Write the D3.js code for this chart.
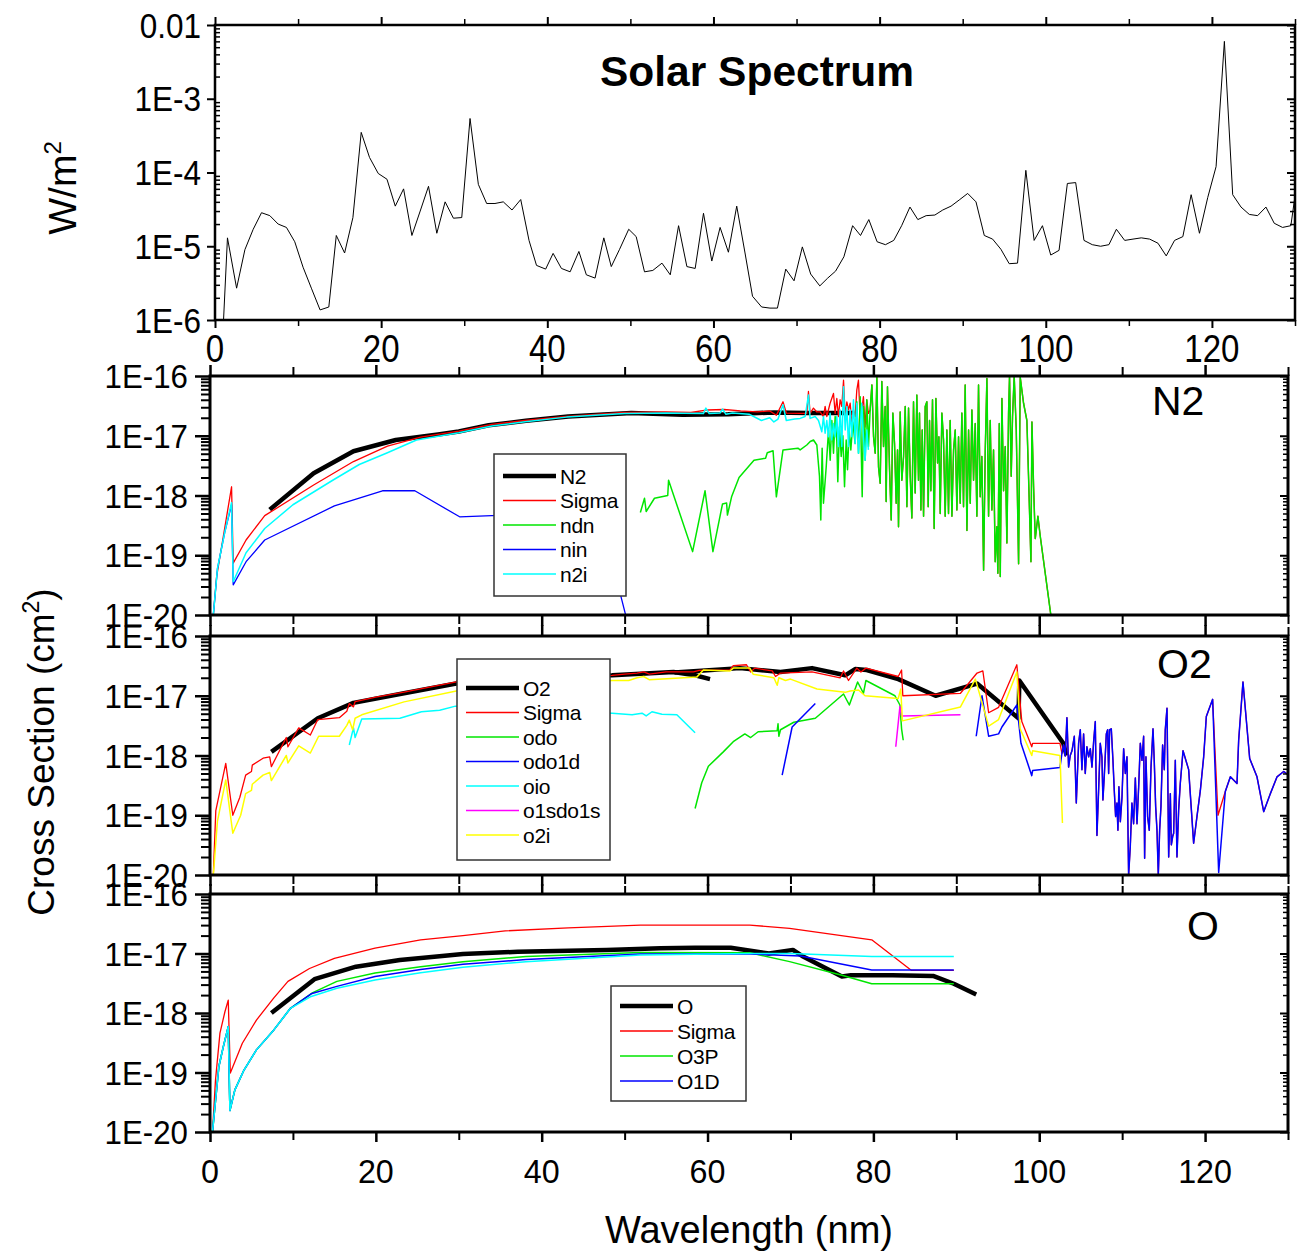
<!DOCTYPE html>
<html>
<head>
<meta charset="utf-8">
<script src="https://cdn.jsdelivr.net/npm/d3@7"></script>
<style>
  body { margin: 0; background: #fff; }
  svg text { font-family: "Liberation Sans", Arial, sans-serif; fill: #000; }
</style>
</head>
<body>
<svg id="chart" width="1305" height="1255"></svg>
<script>
////////////////////////////////////////////////////////////////////////
// Data: [wavelength nm, value]

// Solar spectrum, W/m^2
let solarSpectrum = [
  [0.9,5e-7],[1.5,1.3e-5],[2.6,2.7e-6],[3.6,9e-6],[4.6,1.7e-5],[5.6,2.85e-5],[6.6,2.6e-5],[7.6,2.0e-5],
  [8.6,1.8e-5],[9.6,1.15e-5],[10.6,5.2e-6],[11.6,2.7e-6],[12.65,1.37e-6],[13.7,1.5e-6],[14.6,1.4e-5],
  [15.6,8.1e-6],[16.6,2.45e-5],[17.6,3.5e-4],[18.6,1.6e-4],[19.65,9.7e-5],[20.7,8.1e-5],[21.7,3.5e-5],
  [22.7,6e-5],[23.7,1.4e-5],[24.7,3e-5],[25.7,6.5e-5],[26.7,1.5e-5],[27.7,4e-5],[28.7,2.4e-5],[29.7,2.45e-5],
  [30.7,5.4e-4],[31.7,6.9e-5],[32.7,3.8e-5],[33.7,3.8e-5],[34.7,4e-5],[35.75,3.1e-5],[36.8,4.3e-5],
  [37.8,1.2e-5],[38.7,5.5e-6],[39.8,4.9e-6],[40.7,8e-6],[41.7,5e-6],[42.75,4.5e-6],[43.8,8.5e-6],
  [44.7,4.1e-6],[45.75,3.7e-6],[46.8,1.3e-5],[47.7,5.3e-6],[48.7,9.1e-6],[49.8,1.7e-5],[50.7,1.35e-5],
  [51.7,4.5e-6],[52.7,4.7e-6],[53.8,5.9e-6],[54.8,4.1e-6],[55.8,1.9e-5],[56.8,5.3e-6],[57.8,5e-6],
  [58.8,2.8e-5],[59.8,6.3e-6],[60.8,1.8e-5],[61.8,8.3e-6],[62.8,3.5e-5],[63.8,8.1e-6],[64.7,2.1e-6],
  [65.8,1.5e-6],[66.8,1.45e-6],[67.7,1.45e-6],[68.7,4.9e-6],[69.7,3.4e-6],[70.7,9.8e-6],[71.7,4.2e-6],
  [72.8,2.9e-6],[73.75,3.7e-6],[74.7,4.6e-6],[75.7,7.2e-6],[76.75,1.9e-5],[77.7,1.4e-5],[78.7,2.3e-5],
  [79.7,1.15e-5],[80.7,1.05e-5],[81.7,1.2e-5],[82.65,1.9e-5],[83.65,3.4e-5],[84.6,2.3e-5],[85.6,2.6e-5],
  [86.65,2.65e-5],[87.6,3.1e-5],[88.6,3.5e-5],[89.65,4.3e-5],[90.6,5.2e-5],[91.6,4e-5],[92.6,1.4e-5],
  [93.6,1.25e-5],[94.6,9.1e-6],[95.6,5.8e-6],[96.6,5.9e-6],[97.6,1.07e-4],[98.6,1.2e-5],[99.6,1.9e-5],
  [100.6,7.6e-6],[101.6,8.8e-6],[102.6,7.1e-5],[103.6,7.3e-5],[104.6,1.2e-5],[105.6,1.05e-5],[106.6,1e-5],
  [107.6,1.05e-5],[108.5,1.7e-5],[109.5,1.2e-5],[110.5,1.25e-5],[111.5,1.3e-5],[112.5,1.25e-5],
  [113.5,1.1e-5],[114.5,7.4e-6],[115.5,1.2e-5],[116.5,1.35e-5],[117.5,5e-5],[118.5,1.5e-5],[119.5,4.6e-5],
  [120.5,1.2e-4],[121.5,6e-3],[122.5,5e-5],[123.5,3.4e-5],[124.5,2.7e-5],[125.5,2.6e-5],[126.5,3.4e-5],
  [127.5,2.05e-5],[128.5,1.8e-5],[129.5,1.9e-5],[130,4.8e-5]
];

// N2 cross sections, cm^2
let n2Total = [
  [7.2,5.8e-19],[12.5,2.35e-18],[17.3,5.5e-18],[22.4,8.5e-18],[27.5,1.05e-17],[30,1.18e-17],[33.6,1.5e-17],
  [38.1,1.78e-17],[43.2,2.1e-17],[50.8,2.4e-17],[57,2.25e-17],[62.5,2.3e-17],[68,2.45e-17],[72,2.4e-17],[77.6,2.4e-17]
];
let n2Sigma = [
  [0.4,1e-20],[0.8,4.4e-20],[1.8,3e-19],[2.6,1.4e-18],[2.8,7.4e-20],[4.35,1.8e-19],[6.6,4.6e-19],
  [12.5,1.5e-18],[17.3,3.7e-18],[21.4,6.7e-18],[25.4,9.5e-18],[30,1.2e-17],[34,1.55e-17],[38,1.8e-17],
  [43,2.1e-17],[50,2.45e-17],[55,2.5e-17],[58,2.45e-17],[60,2.7e-17],[62,2.75e-17],[64,2.6e-17],[66,2.5e-17],
  [67.5,2.6e-17],[68.3,2.2e-17],[69.1,3.7e-17],[69.5,2.4e-17],[71.17,2.37e-17],[71.97,2.37e-17],
  [72.17,5.5e-17],[72.37,2.37e-17],[72.77,2.9e-17],[73.18,2.5e-17],[73.58,2.5e-17],[73.98,2.1e-17],
  [74.18,3.1e-17],[74.38,2.1e-17],[74.78,3.5e-17],[75.19,5.1e-17],[75.39,2.37e-17],[75.59,4.2e-17],
  [75.79,2.1e-17],[75.99,4e-17],[76.19,3.1e-17],[76.4,8.5e-17],[76.6,2.1e-17],[76.8,3.7e-17],[77.0,2.7e-17],
  [77.2,3.5e-17],[77.4,1.6e-17],[77.6,2.7e-17],[77.8,2.1e-17],[78.0,5.8e-17],[78.2,8.5e-17],[78.4,2.1e-17],
  [78.6,2.7e-17],[78.8,4.5e-17],[79.0,1.4e-17],[79.2,4e-17],[79.4,2.37e-17]
];
let n2Ndn = [
  [51.9,5.2e-19],[52.4,9e-19],[52.6,5.4e-19],[53.6,9e-19],[55.2,1e-18],[55.3,1.8e-18],[58.2,1.15e-19],
  [59.7,1.2e-18],[60.65,1.15e-19],[61.8,7.2e-19],[62.3,7.5e-19],[62.4,4.7e-19],[62.9,9.5e-19],[63.8,2e-18],
  [65.6,3.9e-18],[67,4.2e-18],[67.2,5.2e-18],[67.9,5.6e-18],[68.3,9.5e-19],[69.1,5.8e-18],[70.9,6.2e-18],
  [71.17,5.8e-18],[71.97,7.0e-18],[72.38,8.0e-18],[72.78,8.5e-18],[73.18,7.0e-18],[73.5,2.1e-18],
  [73.66,3.9e-19],[73.82,6.2e-18],[73.98,7.4e-19],[74.31,3.0e-18],[74.59,1.25e-17],[74.79,3.9e-18],
  [74.99,1.8e-17],[75.19,5.1e-18],[75.39,2.1e-17],[75.59,8.0e-18],[75.71,1.7e-18],[75.91,1.4e-17],
  [76.12,4.5e-18],[76.32,1.0e-17],[76.52,1.4e-18],[76.72,8.5e-18],[76.88,2.7e-18],[77.08,1.25e-17],
  [77.28,5.8e-18],[77.52,1.7e-17],[77.8,7.4e-18],[78.0,3.7e-17],[78.21,5.1e-18],[78.41,4.5e-17],
  [78.65,9.5e-19],[78.81,3.1e-17],[79.01,3.9e-18],[79.21,4.0e-17],[79.41,6.6e-18],[79.61,2.7e-17],
  [79.82,7.1e-17],[80.02,9.6e-18],[80.22,5.1e-18],[80.42,9.5e-17],[80.62,3.0e-18],[80.82,1.6e-18],
  [81.02,8.1e-17],[81.22,6.6e-18],[81.42,3.1e-17],[81.54,7.9e-19],[81.7,6.6e-17],[81.95,2.7e-18],
  [82.15,3.9e-19],[82.35,2.4e-17],[82.55,7.4e-18],[82.75,7.4e-19],[82.91,5.8e-18],[83.03,3.0e-19],
  [83.23,2.5e-17],[83.43,1.8e-18],[83.64,4.5e-18],[83.84,3.1e-17],[84.04,6.5e-19],[84.24,2.9e-17],
  [84.44,2.1e-18],[84.64,4.2e-19],[84.84,3.7e-17],[85.04,1.1e-18],[85.24,4.8e-17],[85.44,1.8e-18],
  [85.56,2.4e-17],[85.73,5.7e-19],[85.89,1.25e-17],[86.05,4.5e-19],[86.25,3.1e-17],[86.45,3.7e-17],
  [86.61,6.5e-19],[86.77,1.8e-17],[86.93,1.2e-18],[87.13,4.0e-17],[87.33,2.8e-19],[87.54,4.2e-17],
  [87.74,3.5e-18],[87.9,9.6e-18],[88.06,5.0e-19],[88.26,2.4e-17],[88.46,8.5e-18],[88.66,4.5e-19],
  [88.86,1.25e-17],[89.06,5.0e-19],[89.26,1.8e-17],[89.47,4.5e-19],[89.67,5.8e-18],[89.87,1.25e-17],
  [90.07,5.7e-19],[90.27,9.6e-18],[90.47,7.4e-19],[90.67,2.4e-17],[90.87,6.5e-19],[91.07,7.1e-17],
  [91.28,2.6e-19],[91.48,1.25e-17],[91.68,7.4e-19],[91.88,2.7e-17],[92.08,1.8e-18],[92.28,1.6e-17],
  [92.48,4.5e-19],[92.68,7.1e-17],[92.88,9.5e-19],[93.08,4.5e-18],[93.29,5.6e-20],[93.49,5.8e-18],
  [93.69,9.1e-17],[93.89,4.5e-19],[94.09,1.8e-17],[94.29,5.7e-19],[94.49,5.8e-18],[94.69,7.8e-20],
  [94.89,3.0e-19],[95.01,5.0e-20],[95.18,1.6e-17],[95.3,4.4e-20],[95.5,4.2e-17],[95.7,1.2e-18],
  [95.9,6.6e-18],[96.1,1.6e-19],[96.3,2.4e-17],[96.42,1.0e-16],[96.62,2.1e-18],[96.78,2.1e-17],
  [96.98,1.0e-16],[97.23,1.25e-17],[97.51,7.2e-20],[97.71,9.5e-17],[98.11,3.5e-17],[98.51,1.8e-17],
  [98.71,2.1e-18],[99.0,7.8e-20],[99.12,1.7e-17],[99.32,1.4e-18],[99.52,1.9e-19],[99.84,4.5e-19],
  [100.12,2.1e-19],[101.4,1e-20]
];
let n2Nin = [
  [0.4,1e-20],[0.9,6e-20],[1.8,2.5e-19],[2.6,7e-19],[2.8,3.2e-20],[4.35,7.8e-20],[6.6,1.8e-19],
  [15,6.7e-19],[20.8,1.2e-18],[24.7,1.2e-18],[30.1,4.4e-19],[34,4.6e-19],[42,5e-19],[49.5,2.2e-20],[50.3,8e-21]
];
let n2N2i = [
  [0.4,1e-20],[0.9,6e-20],[1.8,2.5e-19],[2.6,7.6e-19],[2.8,3.6e-20],[4.35,1.1e-19],[6.6,2.8e-19],[10,7e-19],
  [14.8,1.8e-18],[18,3.3e-18],[21.4,5.2e-18],[24.9,8.5e-18],[30,1.12e-17],[34,1.45e-17],[38,1.72e-17],
  [43,2.05e-17],[50,2.35e-17],[55,2.4e-17],[59.5,2.35e-17],[59.8,2.9e-17],[60.2,2.35e-17],[61.5,2.4e-17],
  [61.8,2.8e-17],[62.2,2.3e-17],[63,2.4e-17],[65,2.3e-17],[66.5,1.8e-17],[67.5,2.0e-17],[68,1.7e-17],
  [68.5,1.9e-17],[69.1,3.3e-17],[69.5,1.8e-17],[70.5,1.9e-17],[71.17,1.95e-17],[71.77,2.1e-17],
  [72.17,4.8e-17],[72.37,1.95e-17],[72.98,2.1e-17],[73.38,1.8e-17],[73.78,1.17e-17],[73.98,2.1e-17],
  [74.18,1.1e-17],[74.38,1.8e-17],[74.58,9.6e-18],[74.78,2.37e-17],[74.98,8.5e-18],[75.19,1.6e-17],
  [75.39,9.6e-18],[75.59,2.1e-17],[75.79,6.6e-18],[75.99,2.7e-17],[76.19,6.6e-18],[76.4,6.6e-17],
  [76.6,1.25e-17],[76.8,3.1e-17],[77.0,6.6e-18],[77.2,2.7e-17],[77.4,9.6e-18],[77.6,4e-17],[77.8,7.4e-18],
  [78.0,3.5e-17],[78.2,5.1e-18],[78.4,1.25e-17],[78.6,3.5e-17],[78.8,9.6e-18],[79.0,3.9e-18],
  [79.2,1.25e-17],[79.4,5.8e-18]
];

// O2 cross sections, cm^2
let o2Total = [
  [7.4,1.15e-18],[13,4.2e-18],[17.3,7.6e-18],[23.4,1.1e-17],[29.7,1.6e-17],[36,1.9e-17],[42,2.1e-17],
  [48.5,2.2e-17],[55.9,2.5e-17],[58.5,2.2e-17],[60.3,1.9e-17]
];
let o2TotalLong = [
  [56,2.45e-17],[63.9,2.9e-17],[68.8,2.5e-17],[72.6,2.9e-17],[76.6,2.2e-17],[77.8,2.8e-17],[79.2,2.7e-17],
  [83,1.9e-17],[87.5,1e-17],[92.5,1.6e-17],[97.5,4.2e-18],[97.6,1.8e-17],[102.9,1.6e-18],[103.3,1.0e-18]
];
let o2SigmaHead = [
  [0.4,1e-20],[0.7,1.2e-19],[1.9,7.4e-19],[2.75,1e-19],[3.6,2e-19],[4.3,4.7e-19],[5.0,5.4e-19],[5.1,6.9e-19],
  [6.4,9e-19],[7.2,9.5e-19],[7.4,6.5e-19],[9.2,2e-18],[9.4,1.4e-18],[10.7,2.9e-18],[12.1,2.2e-18],[13,4e-18],
  [15.6,4.3e-18],[16.5,5.5e-18],[16.8,7.4e-18],[17.3,6.5e-18],[17.5,8e-18],[20,9.5e-18],[23.4,1.15e-17],
  [26,1.35e-17],[29.7,1.7e-17],[30,2.0e-17],[30.3,1.7e-17],[36,2e-17],[42,2.15e-17],[48.5,2.2e-17],
  [50,2.3e-17],[51.5,2.4e-17],[52.3,2.5e-17],[53,2.3e-17],[55,2.5e-17],[58.3,2.5e-17],[59,2.65e-17],
  [62.7,2.7e-17],[63.1,3.2e-17],[64.7,3.3e-17],[65.2,2.5e-17],[65.7,2.9e-17],[67.8,2.6e-17],[68.2,2.1e-17],
  [68.8,2.4e-17],[72.6,2.5e-17],[76,2e-17],[76.4,2.6e-17],[77,1.8e-17],[78,2.9e-17],[78.5,2.5e-17],
  [79.1,2.9e-17],[83,2.1e-17],[83.4,2.7e-17],[83.55,1.0e-17],[90.5,1.1e-17],[92.5,2.4e-17],[93.2,2.6e-17],
  [93.9,5.2e-18],[95.1,6.4e-18],[97.3,3.3e-17],[97.9,3.7e-18],[99.1,1.4e-18],[99.2,1.6e-18],[102.5,1.6e-18]
];
// the banded part above 102.7 nm, shared by Sigma and odo1d
let o2Bands = [
  [102.74,1.09e-18],[102.94,1.5e-18],[103.14,9.8e-19],[103.34,4.3e-18],[103.54,6.4e-19],[103.74,1.0e-18],
  [103.95,1.2e-18],[104.23,2.1e-18],[104.47,1.6e-19],[104.75,1.6e-18],[104.95,2.7e-18],[105.15,5.8e-19],
  [105.35,2.3e-18],[105.55,5.0e-19],[105.75,1.4e-18],[105.96,9.5e-19],[106.16,1.3e-18],[106.36,6.4e-19],
  [106.56,1.7e-18],[106.76,3.7e-18],[106.96,4.6e-20],[107.16,2.6e-19],[107.36,1.6e-18],[107.56,9.5e-19],
  [107.68,1.8e-19],[107.85,4.7e-19],[108.09,2.3e-18],[108.25,2.7e-18],[108.37,5.0e-19],[108.49,2.7e-18],
  [108.69,2.8e-18],[108.89,8.3e-19],[109.05,2.6e-19],[109.21,9.5e-20],[109.37,1.6e-19],[109.49,5.6e-20],
  [109.61,3.0e-19],[109.78,7.8e-20],[109.98,2.0e-19],[110.18,1.3e-18],[110.38,5.0e-19],[110.58,9.5e-19],
  [110.78,1e-20],[110.98,3.0e-20],[111.18,1.6e-19],[111.38,7.2e-20],[111.59,4.2e-19],[111.79,7.2e-20],
  [111.99,3.0e-19],[112.19,1.6e-18],[112.39,8.3e-19],[112.59,2.1e-18],[112.71,1.9e-20],[112.87,9.5e-19],
  [113.07,9.5e-20],[113.27,5.6e-20],[113.48,6.4e-19],[113.72,2.8e-18],[113.88,7.4e-19],[114.04,1.4e-19],
  [114.2,5.6e-20],[114.36,1e-20],[114.52,5.6e-20],[114.68,1.4e-19],[114.88,1.5e-18],[115.08,5.8e-19],
  [115.2,2.7e-18],[115.41,6.2e-18],[115.61,2.0e-20],[115.81,2.3e-19],[115.93,3.2e-20],[116.09,4.4e-20],
  [116.21,5.0e-20],[116.41,8.3e-19],[116.61,2.0e-20],[116.81,1.2e-19],[117.01,3.4e-19],[117.34,1.2e-18],
  [118.02,5.8e-19],[118.62,3.4e-20],[119.02,9.5e-20],[119.43,2.6e-19],[119.83,9.5e-19],[120.15,4.5e-18],
  [120.91,8.7e-18],[121.64,1.1e-20],[122.44,2.5e-19],[123.05,4.4e-19],[123.85,3.4e-19],[124.05,1.8e-18],
  [124.57,1.7e-17],[125.38,8.9e-19],[126.26,4.4e-19],[127.07,1.15e-19],[127.87,2.3e-19],[128.68,4.4e-19],
  [129.48,5.4e-19],[130.08,4.7e-19]
];
let o2SigmaDip = [121.56, 1.0e-19];   // where Sigma leaves the odo1d band
let o2Odo = [
  [58.5,1.3e-19],[59.3,3.5e-19],[60.1,6.6e-19],[61.9,1.15e-18],[63.1,1.7e-18],[64.5,2.3e-18],[65.2,2e-18],
  [66.1,2.5e-18],[68.4,2.6e-18],[68.5,3.4e-18],[68.6,2.1e-18],[68.8,2.7e-18],[70.4,3.6e-18],[73,4.2e-18],
  [76.4,1.07e-17],[77.1,7e-18],[78.1,1.7e-17],[78.8,1.1e-17],[79.1,1.8e-17],[82.6,1e-17],[83.2,7e-18],
  [83.4,2.8e-18],[83.6,1.8e-18]
];
let o2Odo1dShort = [[69,4.7e-19],[70.2,3e-18],[73,7.4e-18]];
let o2Odo1dHead = [
  [92.4,2.1e-18],[93.1,1e-17],[93.9,2.1e-18],[95.1,2.3e-18],[95.5,3.0e-18],[97.3,7e-18],[97.8,1.6e-18],
  [99.1,4.6e-19],[99.2,5.6e-19],[102.5,6.3e-19]
];
let o2Oio = [
  [16.8,1.5e-18],[17.3,2.9e-18],[17.5,2.0e-18],[18.3,4.1e-18],[22.9,4.2e-18],[25.5,5.4e-18],[27.7,5.7e-18],
  [29.6,6.7e-18],[35,6e-18],[42,5.5e-18],[48.5,5.1e-18],[50.9,4.8e-18],[52.1,5.1e-18],[52.6,4.6e-18],
  [53.3,5.4e-18],[54.5,4.9e-18],[56.3,4.8e-18],[58.5,2.4e-18]
];
let o2O1sdo1s = [[82.7,1.4e-18],[83.2,6.6e-18],[83.4,4.6e-18],[90.5,4.8e-18]];
let o2O2i = [
  [0.4,1e-20],[0.9,8e-20],[1.9,3.9e-19],[2.75,5e-20],[3.7,1e-19],[4.3,2.3e-19],[5,2.6e-19],[5.1,3.3e-19],
  [6.4,4.7e-19],[7.2,5.2e-19],[7.4,3.8e-19],[9.2,1e-18],[9.4,7.5e-19],[10.7,1.45e-18],[12.1,1.1e-18],
  [13.1,2.1e-18],[15.6,2.1e-18],[16.5,3.2e-18],[16.8,3.9e-18],[17.2,2.7e-18],[17.5,4.2e-18],[18.3,4.8e-18],
  [23.4,7.9e-18],[29.7,1.2e-17],[36,1.5e-17],[42,1.7e-17],[48.5,1.8e-17],[50.5,1.8e-17],[51.5,2.0e-17],
  [52.3,2.1e-17],[53,1.85e-17],[58.7,2.05e-17],[59.5,2.7e-17],[62.7,2.6e-17],[63.1,2.9e-17],[65.1,2.9e-17],
  [65.5,2.3e-17],[68,2.0e-17],[68.4,1.5e-17],[68.6,2.0e-17],[69.4,1.8e-17],[70,1.9e-17],[73.2,1.3e-17],
  [76.6,1.14e-17],[77.2,1.2e-17],[78.2,1.25e-17],[79,1.0e-17],[83,9e-18],[83.3,1.3e-17],[83.5,3.8e-18],
  [90.5,6.5e-18],[92.3,1.9e-17],[93.9,3.1e-18],[95.1,4e-18],[97.3,2.5e-17],[97.7,2.8e-18],[99.1,1e-18],
  [99.2,1.2e-18],[102.5,1e-18],[102.8,7.4e-20]
];

// O cross sections, cm^2
let oTotal = [
  [7.4,1e-18],[12.6,3.7e-18],[17.6,6e-18],[22.9,7.8e-18],[28,9.1e-18],[30.5,9.8e-18],[37.1,1.07e-17],
  [47.8,1.14e-17],[54.3,1.22e-17],[58.5,1.25e-17],[62.8,1.25e-17],[67.4,1.0e-17],[70.3,1.15e-17],
  [71.4,9.1e-18],[76.2,4.1e-18],[77.3,4.3e-18],[82.3,4.3e-18],[87.2,4.2e-18],[89.7,3.1e-18],[92.4,2.05e-18]
];
let oSigma = [
  [0.3,1e-20],[0.66,7.4e-20],[1.2,4.6e-19],[1.8,1.05e-18],[2.2,1.65e-18],[2.45,9.8e-20],[3.9,3.1e-19],
  [5.6,7.6e-19],[7.7,1.8e-18],[9.4,3.4e-18],[12,5.6e-18],[15,8.3e-18],[19.9,1.23e-17],[25.4,1.7e-17],
  [30.5,2.0e-17],[35.6,2.4e-17],[43.2,2.7e-17],[51.9,3.0e-17],[65.1,3.0e-17],[69.9,2.65e-17],[79.8,1.7e-17],
  [84.6,5.2e-18],[89.7,5.2e-18]
];
let oO3P = [
  [0.3,1e-20],[1.07,1.26e-19],[1.6,2.7e-19],[2.2,5.9e-19],[2.4,2.3e-20],[3.0,5.1e-20],[4.1,1.1e-19],
  [5.6,2.4e-19],[7.7,5.2e-19],[9.7,1.2e-18],[12.4,2.2e-18],[15.3,3.4e-18],[19.9,4.7e-18],[25.4,6e-18],
  [30.5,7.3e-18],[38.1,8.9e-18],[51.9,1.04e-17],[65.1,1.03e-17],[69.9,7.3e-18],[76.2,4.3e-18],
  [79.8,3.1e-18],[89.7,3.1e-18]
];
let oO1D = [
  [0.3,1e-20],[1.07,1.26e-19],[1.6,2.7e-19],[2.2,5.9e-19],[2.4,2.3e-20],[3.0,5.1e-20],[4.1,1.1e-19],
  [5.6,2.4e-19],[7.7,5.2e-19],[9.7,1.2e-18],[12.2,2.1e-18],[15.3,2.8e-18],[19.9,4.1e-18],[25.4,5.4e-18],
  [30.5,6.6e-18],[38.1,7.9e-18],[51.9,9.8e-18],[65.1,9.8e-18],[71.2,9.1e-18],[79.8,5.3e-18],[89.7,5.3e-18]
];
let oIon = [
  [0.3,1e-20],[1.07,1.26e-19],[1.6,2.7e-19],[2.2,5.9e-19],[2.4,2.3e-20],[3.0,5.1e-20],[4.1,1.1e-19],
  [5.6,2.4e-19],[7.7,5.2e-19],[9.7,1.2e-18],[12.2,1.9e-18],[15.3,2.6e-18],[19.9,3.6e-18],[25.4,4.75e-18],
  [30.5,5.9e-18],[38.1,7.3e-18],[51.9,9.4e-18],[65.1,1.0e-17],[70,1.0e-17],[79.8,8.9e-18],[89.7,8.9e-18]
];

// tick labels
let xTickValues = [0, 20, 40, 60, 80, 100, 120];
let solarTickLabels = ["1E-6", "1E-5", "1E-4", "1E-3", "0.01"];
let crossTickLabels = ["1E-20", "1E-19", "1E-18", "1E-17", "1E-16"];

// Sigma in N2 runs under ndn above 79.5 nm, in O2 under the odo1d bands
let n2SigmaFull = n2Sigma.concat(n2Ndn.filter(d => d[0] > 79.5));
let o2SigmaFull = o2SigmaHead.concat(
  o2Bands.filter(d => d[0] < 121).concat([o2SigmaDip], o2Bands.filter(d => d[0] > 122)));
let o2Odo1d = o2Odo1dHead.concat(o2Bands);

////////////////////////////////////////////////////////////////////////
// Layout

let svg = d3.select("#chart");

let xTop = d3.scaleLinear().domain([0, 130]).range([215, 1295]);
let xBot = d3.scaleLinear().domain([0, 130]).range([210, 1288]);
let ySolar = d3.scaleLog().domain([1e-6, 1e-2]).range([320, 25]);
let yN2 = d3.scaleLog().domain([1e-20, 1e-16]).range([615, 376]);
let yO2 = d3.scaleLog().domain([1e-20, 1e-16]).range([875, 636]);
let yO = d3.scaleLog().domain([1e-20, 1e-16]).range([1132, 894]);

// the original uses a narrow face, so squeeze the text a little
function narrowText(g, x, y, str, size, sx, anchor) {
  return g.append("text")
    .attr("transform", `translate(${x},${y}) scale(${sx},1)`)
    .attr("text-anchor", anchor)
    .style("font-size", size + "px")
    .text(str);
}

// minor tick values for a log domain (2..9 per decade)
function minorTicks(y) {
  let [lo, hi] = y.domain();
  let out = [];
  for (let e = Math.log10(lo); e < Math.log10(hi); e++)
    for (let m = 2; m <= 9; m++) out.push(m * Math.pow(10, e));
  return out;
}

function majorTicks(y) {
  let [lo, hi] = y.domain();
  let out = [];
  for (let e = Math.log10(lo); e <= Math.log10(hi) + 1e-9; e++) out.push(Math.pow(10, e));
  return out;
}

// draws ticks with a d3 axis, then strips its domain line
function tickAxis(g, axis, width) {
  g.call(axis);
  g.select(".domain").remove();
  g.selectAll("text").remove();
  g.selectAll("line").attr("stroke", "#000").attr("stroke-width", width);
}

function drawPanel(opt) {
  let x = opt.x, y = opt.y;
  let [x0, x1] = x.range();
  let [yb, yt] = y.range();
  let g = svg.append("g");

  let clipId = "clip" + opt.id;
  svg.append("clipPath").attr("id", clipId)
    .append("rect").attr("x", x0).attr("y", yt).attr("width", x1 - x0).attr("height", yb - yt);

  // series
  let lines = g.append("g").attr("clip-path", "url(#" + clipId + ")");
  let line = d3.line().x(d => x(d[0])).y(d => y(Math.max(d[1], 1e-22)));
  opt.series.forEach(s => {
    lines.append("path")
      .attr("d", line(s.data))
      .attr("fill", "none")
      .attr("stroke", s.color)
      .attr("stroke-width", s.width)
      .attr("stroke-linejoin", "round");
  });

  // x ticks, bottom and top, every 10 nm
  let xMajor = d3.range(0, 131, 20), xMinor = d3.range(10, 131, 20);
  let t = opt.xTick;
  tickAxis(g.append("g").attr("transform", `translate(0,${yb})`),
    d3.axisBottom(x).tickValues(xMajor).tickSize(t).tickSizeOuter(0), opt.tickW);
  tickAxis(g.append("g").attr("transform", `translate(0,${yb})`),
    d3.axisBottom(x).tickValues(xMinor).tickSize(t - 2).tickSizeOuter(0), opt.tickW - 0.5);
  tickAxis(g.append("g").attr("transform", `translate(0,${yt})`),
    d3.axisTop(x).tickValues(xMajor).tickSize(t).tickSizeOuter(0), opt.tickW);
  tickAxis(g.append("g").attr("transform", `translate(0,${yt})`),
    d3.axisTop(x).tickValues(xMinor).tickSize(t - 2).tickSizeOuter(0), opt.tickW - 0.5);

  // y ticks, left
  tickAxis(g.append("g").attr("transform", `translate(${x0},0)`),
    d3.axisLeft(y).tickValues(majorTicks(y)).tickSize(opt.yMajor).tickSizeOuter(0), opt.tickW);
  tickAxis(g.append("g").attr("transform", `translate(${x0},0)`),
    d3.axisLeft(y).tickValues(minorTicks(y)).tickSize(opt.yMinor).tickSizeOuter(0), opt.tickW - 0.5);
  // y ticks, right (inside)
  tickAxis(g.append("g").attr("transform", `translate(${x1},0)`),
    d3.axisRight(y).tickValues(minorTicks(y)).tickSize(-5).tickSizeOuter(0), 1.5);
  tickAxis(g.append("g").attr("transform", `translate(${x1},0)`),
    d3.axisRight(y).tickValues(majorTicks(y)).tickSize(-8).tickSizeOuter(0), 2);

  // frame
  g.append("rect")
    .attr("x", x0).attr("y", yt).attr("width", x1 - x0).attr("height", yb - yt)
    .attr("fill", "none").attr("stroke", "#000").attr("stroke-width", opt.frameW);

  // y labels
  let labels = g.append("g");
  majorTicks(y).forEach((d, i) => {
    narrowText(labels, x0 - opt.yLabelGap, y(d) + opt.yLabelSize * 0.36,
      opt.yLabels[i], opt.yLabelSize, opt.yLabelScale, "end");
  });

  // panel label
  if (opt.name) {
    g.append("text").attr("x", opt.name.x).attr("y", opt.name.y)
      .style("font-size", "41px").text(opt.name.text);
  }

  // legend
  if (opt.legend) {
    let L = opt.legend;
    let lg = g.append("g");
    lg.append("rect").attr("x", L.x).attr("y", L.y).attr("width", L.w).attr("height", L.h)
      .attr("fill", "#fff").attr("stroke", "#333").attr("stroke-width", 1.5);
    L.items.forEach((s, i) => {
      let ry = L.row0 + i * L.step;
      lg.append("line").attr("x1", L.x + 9).attr("x2", L.x + 62).attr("y1", ry).attr("y2", ry)
        .attr("stroke", s.color).attr("stroke-width", s.width);
      lg.append("text").attr("x", L.x + 66).attr("y", ry).attr("dy", "0.36em")
        .style("font-size", "21px").style("letter-spacing", "-0.3px").text(s.name);
    });
  }
}

////////////////////////////////////////////////////////////////////////
// Panels

drawPanel({
  id: "solar", x: xTop, y: ySolar, xTick: 8, tickW: 2, frameW: 2.5,
  yMajor: 8, yMinor: -5, yLabelGap: 14, yLabelSize: 35, yLabelScale: 0.9, yLabels: solarTickLabels,
  series: [{ data: solarSpectrum, color: "#000", width: 1 }]
});

let n2Series = [
  { name: "N2", data: n2Total, color: "#000", width: 4.5 },
  { name: "Sigma", data: n2SigmaFull, color: "#ff0000", width: 1.3 },
  { name: "ndn", data: n2Ndn, color: "#00e600", width: 1.5 },
  { name: "nin", data: n2Nin, color: "#0000ff", width: 1.3 },
  { name: "n2i", data: n2N2i, color: "#00ffff", width: 1.5 }
];
drawPanel({
  id: "n2", x: xBot, y: yN2, xTick: 11, tickW: 2.5, frameW: 3,
  yMajor: 15, yMinor: 9, yLabelGap: 22, yLabelSize: 34, yLabelScale: 0.92, yLabels: crossTickLabels,
  series: n2Series,
  name: { text: "N2", x: 1152, y: 415 },
  legend: { x: 494, y: 454, w: 132, h: 142, row0: 476, step: 24.5, items: n2Series }
});

let o2Series = [
  { name: "O2", data: o2Total, color: "#000", width: 4.5 },
  { name: null, data: o2TotalLong, color: "#000", width: 4.5 },
  { name: "Sigma", data: o2SigmaFull, color: "#ff0000", width: 1.3 },
  { name: "odo", data: o2Odo, color: "#00e600", width: 1.5 },
  { name: "odo1d", data: o2Odo1d, color: "#0000ff", width: 1.5 },
  { name: null, data: o2Odo1dShort, color: "#0000ff", width: 1.5 },
  { name: "oio", data: o2Oio, color: "#00ffff", width: 1.5 },
  { name: "o1sdo1s", data: o2O1sdo1s, color: "#ff00ff", width: 1.5 },
  { name: "o2i", data: o2O2i, color: "#ffff00", width: 1.5 }
];
drawPanel({
  id: "o2", x: xBot, y: yO2, xTick: 11, tickW: 2.5, frameW: 3,
  yMajor: 15, yMinor: 9, yLabelGap: 22, yLabelSize: 34, yLabelScale: 0.92, yLabels: crossTickLabels,
  series: o2Series,
  name: { text: "O2", x: 1157, y: 678 },
  legend: { x: 457, y: 659, w: 153, h: 201, row0: 688, step: 24.5, items: o2Series.filter(s => s.name) }
});

let oSeries = [
  { name: "O", data: oTotal, color: "#000", width: 4.5 },
  { name: "Sigma", data: oSigma, color: "#ff0000", width: 1.3 },
  { name: "O3P", data: oO3P, color: "#00e600", width: 1.5 },
  { name: "O1D", data: oO1D, color: "#0000ff", width: 1.5 },
  { name: null, data: oIon, color: "#00ffff", width: 1.5 }
];
drawPanel({
  id: "o", x: xBot, y: yO, xTick: 10, tickW: 2.5, frameW: 3,
  yMajor: 15, yMinor: 9, yLabelGap: 22, yLabelSize: 34, yLabelScale: 0.92, yLabels: crossTickLabels,
  series: oSeries,
  name: { text: "O", x: 1187, y: 940 },
  legend: { x: 611, y: 986, w: 135, h: 115, row0: 1006, step: 25, items: oSeries.filter(s => s.name) }
});

// x tick labels
let xl = svg.append("g");
xTickValues.forEach(d => narrowText(xl, xTop(d), 362, d, 38, 0.87, "middle"));
xTickValues.forEach(d => narrowText(xl, xBot(d), 1183, d, 34, 0.95, "middle"));

// titles
svg.append("text").attr("x", 600).attr("y", 86)
  .style("font-size", "42.5px").style("font-weight", "bold").text("Solar Spectrum");

let wm = svg.append("text").attr("transform", "translate(76,188) rotate(-90)")
  .attr("text-anchor", "middle").style("font-size", "39px");
wm.append("tspan").text("W/m");
wm.append("tspan").attr("dy", -15).style("font-size", "24px").text("2");

let cs = svg.append("text").attr("transform", "translate(54,752) rotate(-90)")
  .attr("text-anchor", "middle").style("font-size", "37px");
cs.append("tspan").text("Cross Section (cm");
cs.append("tspan").attr("dy", -15).style("font-size", "23px").text("2");
cs.append("tspan").attr("dy", 15).text(")");

svg.append("text").attr("x", 749).attr("y", 1243)
  .attr("text-anchor", "middle").style("font-size", "38px")
  .text("Wavelength (nm)");
</script>
</body>
</html>
